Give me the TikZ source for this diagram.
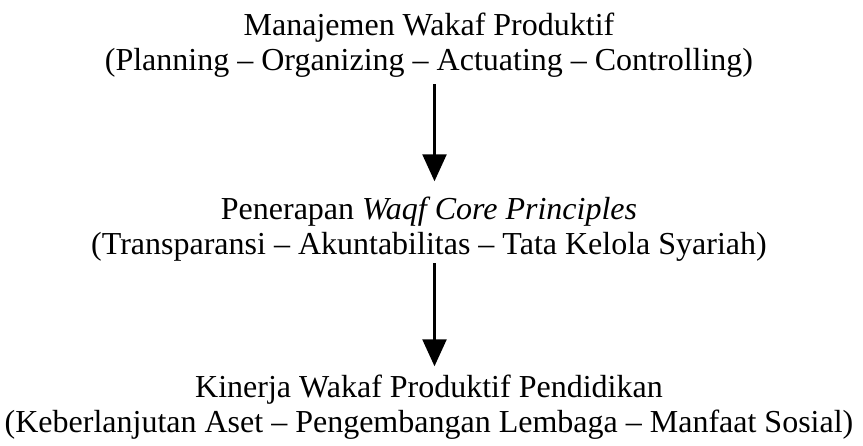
\documentclass[tikz,border=0pt]{standalone}
\usepackage{fontspec}
\setmainfont{Liberation Serif}
\usetikzlibrary{arrows.meta}
\begin{document}
\begin{tikzpicture}[x=1pt,y=1pt,
  stage/.style={align=center, inner sep=0pt, font=\fontsize{32}{35}\selectfont},
  flow/.style={line width=2.5pt, -{Triangle[length=27pt,width=24pt]}}]
\useasboundingbox (0,0) rectangle (863,-445);
% anchor=base sits on the baseline of each node's last line
\node[stage, anchor=base] (plan) at (429,-70)
  {Manajemen Wakaf Produktif\\(Planning -- Organizing -- Actuating -- Controlling)};
\node[stage, anchor=base] (wcp) at (429,-254)
  {Penerapan \textit{Waqf Core Principles}\\(Transparansi -- Akuntabilitas -- Tata Kelola Syariah)};
\node[stage, anchor=base] (kin) at (429,-432)
  {Kinerja Wakaf Produktif Pendidikan\\(Keberlanjutan Aset -- Pengembangan Lembaga -- Manfaat Sosial)};
% arrows leave a small gap below one block and stop short of the next
\draw[flow] ([xshift=5.5pt,yshift=-7pt]plan.south) -- ([xshift=5.5pt,yshift=15pt]wcp.north);
\draw[flow] ([xshift=5.5pt,yshift=-2pt]wcp.south) -- ([xshift=5.5pt,yshift=8pt]kin.north);
\end{tikzpicture}
\end{document}
